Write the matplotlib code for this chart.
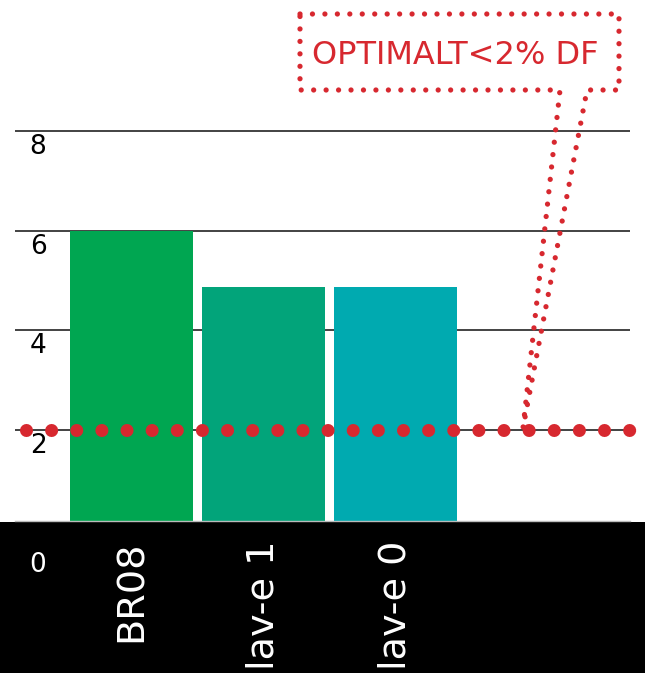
import matplotlib.pyplot as plt
import matplotlib.transforms as mtransforms
from matplotlib.patches import Polygon, Rectangle

# data
kategorier = ['BR08', 'lav-e 1', 'lav-e 0']
verdier = [6.0, 4.87, 4.87]
farger = ['#00a651', '#02a47a', '#00aab0']
grense = 2.0
grense_tekst = 'OPTIMALT<2% DF'
y_ticks = [2, 4, 6, 8]

W, H = 645, 673
fig = plt.figure(figsize=(W / 100, H / 100), dpi=100)
fig.patch.set_facecolor('white')

# pixel coords measured from top-left of the figure
px = mtransforms.Affine2D().scale(1 / W, -1 / H).translate(0, 1) + fig.transFigure

# black band under the plot
fig.patches.append(Rectangle((0, 0), 1, (H - 522) / H, transform=fig.transFigure,
                             facecolor='black', edgecolor='none', zorder=-5))

ax = fig.add_axes([15 / W, (H - 521) / H, 615 / W, 521 / H])
ax.set_zorder(1)
ax.set_xlim(-0.883, 3.777)
ax.set_ylim(0.18, 0.18 + 521 / 49.9)

lab_tr = mtransforms.blended_transform_factory(ax.transAxes, ax.transData) + \
    mtransforms.ScaledTranslation(0, -3 / 100, fig.dpi_scale_trans)
for v in y_ticks:
    ax.axhline(v, color='#222222', lw=1.2, zorder=1)
    ax.text(0.0374, v, str(v), transform=lab_tr,
            ha='center', va='top', fontsize=19, color='black', zorder=2)

x = range(len(kategorier))
ax.bar(x, verdier, width=0.93, color=farger, zorder=2)

# threshold line drawn as big round dots
ax.axhline(grense, xmin=11 / 615, xmax=1, color='#d7282f', lw=9.4,
           linestyle=(0, (0.001, 1.924)), dash_capstyle='round', zorder=4, clip_on=False)

ax.set_yticks([])
ax.set_xticks(list(x))
ax.set_xticklabels(kategorier, rotation=90, color='white', fontsize=27.5)
ax.tick_params(axis='x', length=0, pad=14)
for s in ['top', 'left', 'right']:
    ax.spines[s].set_visible(False)
ax.spines['bottom'].set_color('#bbbbbb')
ax.spines['bottom'].set_linewidth(1.0)

fig.text(38, 565, '0', transform=px, ha='center', va='center', fontsize=19, color='white')

# callout box with pointer down to the threshold line
callout = Polygon([(300, 14), (619, 14), (619, 90), (587, 90), (523, 428), (560, 90), (300, 90)],
                  closed=True, transform=px, fill=False, edgecolor='#d7282f', lw=3.8,
                  linestyle=(0, (0.001, 12.5 / 5.3)), capstyle='round', joinstyle='round', zorder=5)
fig.patches.append(callout)
fig.text(455, 56, grense_tekst, transform=px, ha='center', va='center',
         fontsize=23, color='#d7282f')

fig.savefig('out.png', dpi=100)
